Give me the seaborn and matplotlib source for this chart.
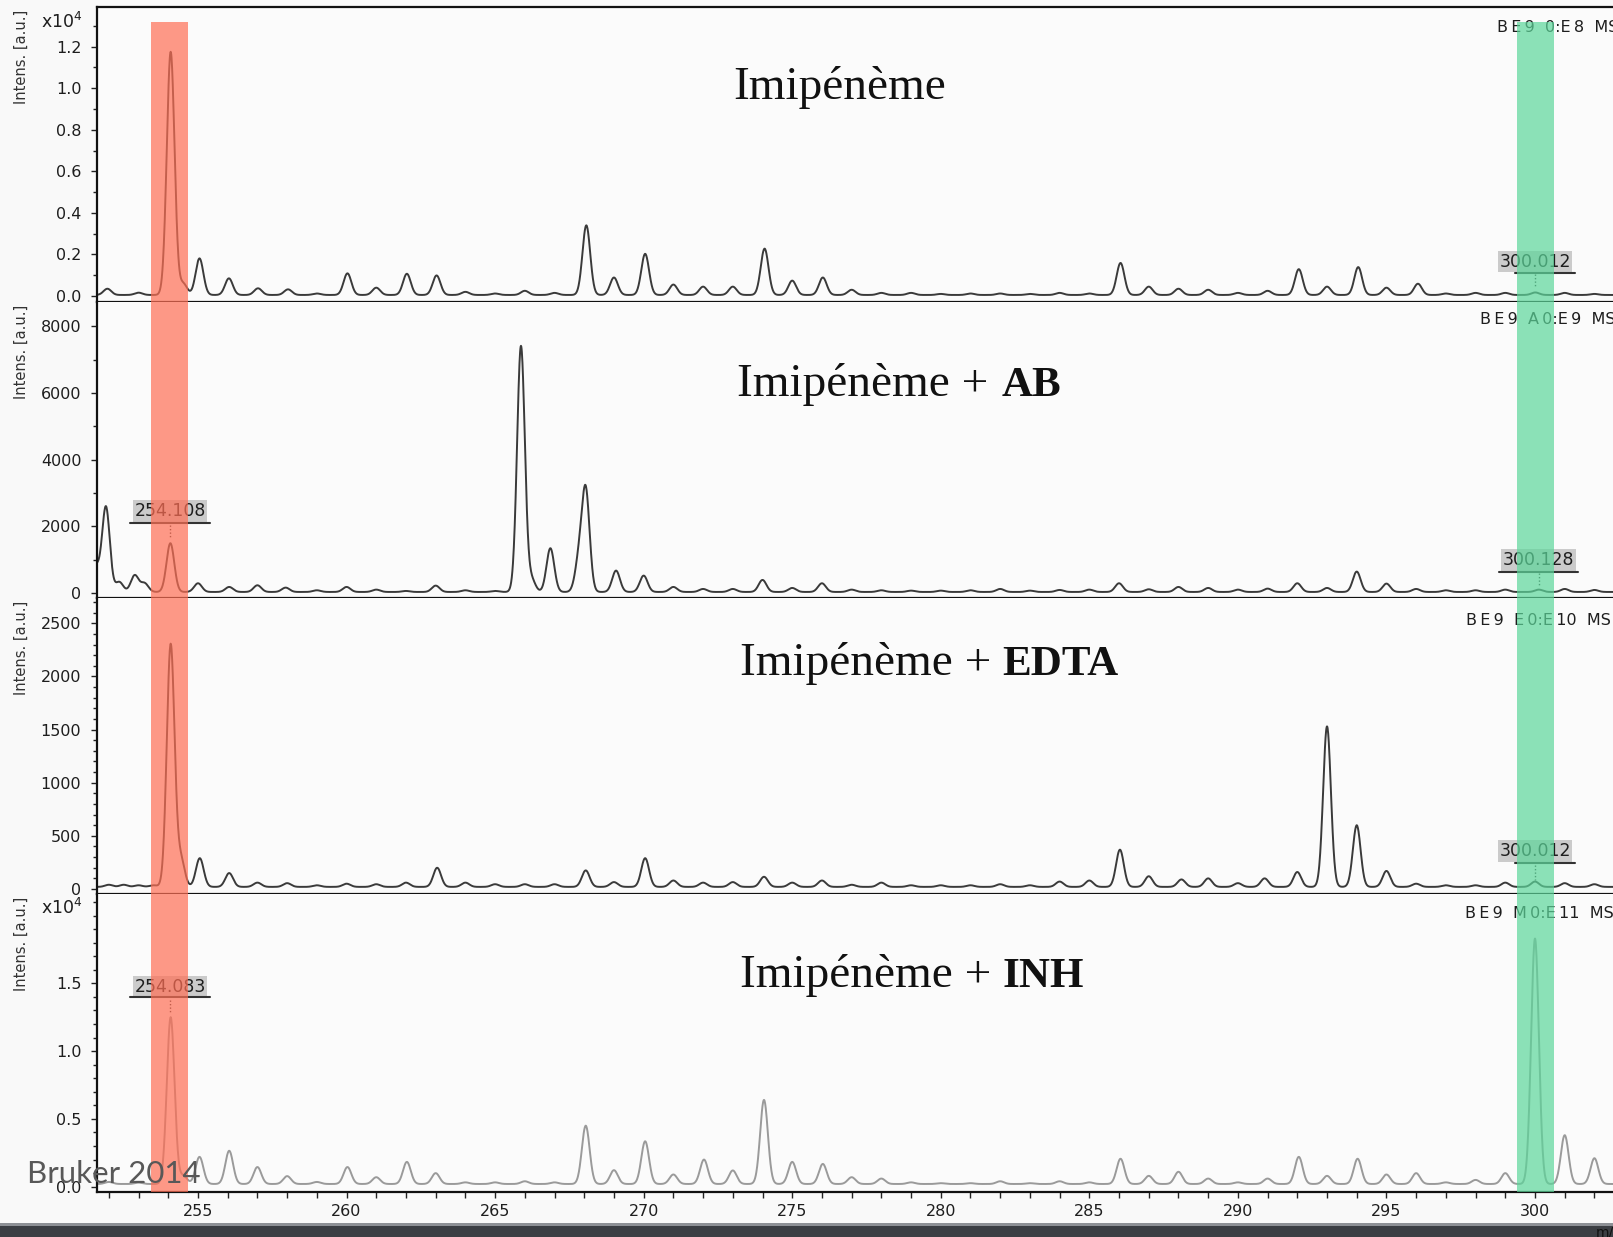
import numpy as np
import pandas as pd
import matplotlib
matplotlib.use("Agg")
import matplotlib.pyplot as plt
import seaborn as sns
from matplotlib.ticker import MultipleLocator, FixedLocator, FuncFormatter
from matplotlib.transforms import blended_transform_factory
from matplotlib.patches import Rectangle

# ---------------------------------------------------------------------------
# MALDI-TOF peak lists (m/z, intensity above baseline, a.u.)
# ---------------------------------------------------------------------------
imi_mz = [251.95, 253.0, 254.08, 254.5, 255.05, 256.04, 257.02, 258.03, 259.0,
          260.03, 261.0, 262.03, 263.03, 264.0, 265.0, 266.0, 267.0, 268.07,
          269.0, 270.05, 271.0, 272.0, 273.0, 274.07, 275.0, 276.03, 277.0,
          278.0, 279.0, 280.0, 281.0, 282.0, 283.0, 284.0, 285.0, 286.05,
          287.0, 288.0, 289.0, 290.0, 291.0, 292.05, 293.0, 294.05, 295.0,
          296.06, 297.0, 298.0, 299.0, 300.01, 301.0, 302.0]
imi_int = [300, 110, 11700, 550, 1760, 800, 320, 270, 70,
           1040, 350, 1020, 940, 150, 70, 200, 100, 3350,
           840, 1980, 500, 400, 400, 2230, 690, 840, 250,
           100, 100, 50, 70, 70, 50, 100, 70, 1540,
           400, 300, 250, 100, 200, 1240, 400, 1340, 350,
           540, 70, 100, 100, 120, 100, 50]
imi_base = 50

ab_mz = [251.55, 251.9, 252.35, 252.87, 253.2, 254.07, 255.0, 256.05, 257.0,
         257.95, 259.0, 260.0, 261.0, 262.0, 263.0, 264.0, 265.0, 265.87,
         266.22, 266.86, 267.82, 268.05, 269.07, 270.0, 271.0, 272.0, 273.0,
         274.0, 275.0, 276.0, 277.0, 278.0, 279.0, 280.0, 281.0, 282.0, 283.0,
         284.0, 285.0, 286.0, 287.0, 288.0, 289.0, 290.0, 291.0, 292.0, 293.0,
         294.0, 295.0, 296.0, 297.0, 298.0, 299.0, 300.13, 301.0, 302.0]
ab_int = [750, 2550, 300, 500, 260, 1460, 260, 150, 200,
          130, 50, 150, 70, 30, 190, 50, 30, 7360,
          380, 1310, 900, 3000, 640, 490, 150, 90, 90,
          360, 120, 260, 70, 50, 40, 40, 50, 90, 40,
          60, 70, 260, 80, 150, 120, 70, 100, 260, 120,
          610, 250, 90, 50, 50, 70, 70, 90, 60]
ab_base = 40

edta_mz = [252.0, 252.5, 253.0, 253.5, 254.08, 254.42, 255.06, 256.05, 257.0,
           258.0, 259.0, 260.0, 261.0, 262.0, 263.05, 264.0, 265.0, 266.0,
           267.0, 268.05, 269.0, 270.05, 271.0, 272.0, 273.0, 274.05, 275.0,
           276.0, 277.0, 278.0, 279.0, 280.0, 281.0, 282.0, 283.0, 284.0,
           285.0, 286.03, 287.0, 288.1, 289.0, 290.0, 290.9, 292.0, 293.0,
           294.0, 295.0, 296.0, 297.0, 298.0, 299.0, 300.0, 301.0, 302.0]
edta_int = [20, 20, 15, 15, 2280, 260, 270, 130, 40,
            35, 15, 30, 25, 40, 180, 40, 25, 25,
            25, 155, 45, 270, 60, 40, 45, 95, 40,
            60, 20, 40, 15, 15, 15, 25, 15, 50,
            60, 350, 100, 70, 80, 35, 80, 140, 1510,
            580, 150, 30, 15, 15, 40, 50, 35, 25]
edta_base = 20

inh_mz = [252.0, 253.0, 254.08, 254.5, 255.05, 256.05, 257.0, 258.0, 259.0,
          260.03, 261.0, 262.03, 263.0, 264.0, 265.0, 266.0, 267.0, 268.05,
          269.0, 270.05, 271.0, 272.03, 273.0, 274.05, 275.0, 276.03, 277.0,
          278.0, 279.0, 280.0, 281.0, 282.0, 283.0, 284.0, 285.0, 286.05,
          287.0, 288.0, 289.0, 290.0, 291.0, 292.05, 293.0, 294.03, 295.0,
          296.0, 297.0, 298.0, 299.0, 300.0, 301.0, 302.0]
inh_int = [150, 100, 12300, 600, 2000, 2450, 1250, 580, 150,
           1250, 500, 1630, 800, 120, 120, 200, 120, 4300,
           1020, 3150, 700, 1800, 1000, 6200, 1630, 1480, 500,
           400, 120, 60, 60, 200, 60, 200, 120, 1860,
           600, 900, 400, 120, 400, 2000, 600, 1860, 700,
           800, 120, 300, 800, 18100, 3600, 1900]
inh_base = 200

title_main = ["Imipénème", "Imipénème +", "Imipénème +", "Imipénème +"]
title_agent = ["", "AB", "EDTA", "INH"]
run_ids = ["B\u2009E\u20099  0:E\u20098  MS",
           "B\u2009E\u20099  A\u20090:E\u20099  MS",
           "B\u2009E\u20099  E\u20090:E\u200910  MS",
           "B\u2009E\u20099  M\u20090:E\u200911  MS"]

# ---------------------------------------------------------------------------
sns.set_style("white")
plt.rcParams["font.family"] = ["DejaVu Sans"]

W, H = 1613, 1237
fig = plt.figure(figsize=(W / 100, H / 100), dpi=100, facecolor="#f9f9f9")

def fx(px):
    return px / W

def fy(py):
    return 1 - py / H

left_px, right_px = 97, 1620
panels_px = [(7, 302), (302, 598), (598, 894), (894, 1192)]
ylims = [(-289, 13908), (-141, 8722), (-47, 2738), (-391, 21586)]
x_lo = 255 - (198 - left_px) / 29.71
x_hi = 300 + (right_px - 1535) / 29.71

mz_grid = np.arange(251.0, 303.5, 0.01)

def profile(mz, inten, base, width):
    y = np.full_like(mz_grid, float(base))
    for m, h in zip(mz, inten):
        y += h * np.exp(-0.5 * ((mz_grid - m) / width) ** 2)
    return pd.DataFrame({"mz": mz_grid, "intensity": y})

spectra = [profile(imi_mz, imi_int, imi_base, 0.13),
           profile(ab_mz, ab_int, ab_base, 0.13),
           profile(edta_mz, edta_int, edta_base, 0.13),
           profile(inh_mz, inh_int, inh_base, 0.13)]
line_colors = ["#3a3a3a", "#3a3a3a", "#3a3a3a", "#9a9a9a"]

axes = []
for i, ((top, bot), df) in enumerate(zip(panels_px, spectra)):
    ax = fig.add_axes([fx(left_px), fy(bot), fx(right_px - left_px), (bot - top) / H],
                      sharex=axes[0] if axes else None)
    ax.set_facecolor("#fbfbfb")
    sns.lineplot(data=df, x="mz", y="intensity", ax=ax, color=line_colors[i],
                 lw=1.4, estimator=None, errorbar=None, sort=False)
    ax.set_xlim(x_lo, x_hi)
    ax.set_ylim(*ylims[i])
    ax.spines["right"].set_visible(False)
    for s in ["left", "bottom", "top"]:
        ax.spines[s].set_color("#111111")
        ax.spines[s].set_linewidth(1.6)
    if i > 0:
        ax.spines["top"].set_visible(False)
    ax.set_xlabel("")
    ax.set_ylabel("Intens. [a.u.]", fontsize=10.5, color="#333333", loc="top")
    ax.yaxis.set_label_coords(-0.045, 0.99)
    ax.tick_params(axis="y", which="major", direction="out", length=4.3, width=1.0,
                   color="#222222", labelsize=11.5, labelcolor="#1e1e1e", pad=7, left=True)
    ax.tick_params(axis="y", which="minor", direction="out", length=3.0, width=1.0,
                   color="#222222", left=True)
    if i < 3:
        ax.tick_params(axis="x", which="both", bottom=False, labelbottom=False)
    axes.append(ax)

# y-axis scales of each panel
ax1, ax2, ax3, ax4 = axes
sci = FuncFormatter(lambda v, p: f"{v / 1e4:.1f}")
ax1.yaxis.set_major_locator(FixedLocator([0, 2000, 4000, 6000, 8000, 10000, 12000]))
ax1.yaxis.set_minor_locator(MultipleLocator(1000))
ax1.yaxis.set_major_formatter(sci)
ax2.yaxis.set_major_locator(FixedLocator([0, 2000, 4000, 6000, 8000]))
ax2.yaxis.set_minor_locator(MultipleLocator(1000))
ax3.yaxis.set_major_locator(FixedLocator([0, 500, 1000, 1500, 2000, 2500]))
ax3.yaxis.set_minor_locator(MultipleLocator(100))
ax4.yaxis.set_major_locator(FixedLocator([0, 5000, 10000, 15000]))
ax4.yaxis.set_minor_locator(MultipleLocator(1000))
ax4.yaxis.set_major_formatter(sci)

ax4.xaxis.set_major_locator(MultipleLocator(5))
ax4.xaxis.set_minor_locator(MultipleLocator(1))
ax4.tick_params(axis="x", which="both", direction="out", length=4.0, width=1.0,
                color="#222222", bottom=True, labelbottom=True)
ax4.tick_params(axis="x", which="major", labelsize=11.5, labelcolor="#1e1e1e", pad=5)

# intensity multiplier marks
for py in (22, 908):
    fig.text(fx(41), fy(py), r"x10$^{\mathsf{4}}$", fontsize=12.5, color="#1e1e1e",
             va="center", ha="left")

# sample titles: regular compound name, bold added agent
title_pos = [(733, 99), (737, 396), (740, 675), (740, 987)]
for main, agent, (px, py) in zip(title_main, title_agent, title_pos):
    fig.text(fx(px), fy(py), main, fontsize=34, family="Liberation Serif",
             color="#111111", ha="left", va="baseline")
    if agent:
        fig.text(fx(1002), fy(py), agent, fontsize=31, family="Liberation Serif",
                 weight="bold", color="#111111", ha="left", va="baseline")

# acquisition ids, clipped by the right border
id_pos = [(1497, 27), (1480, 320), (1466, 621), (1465, 913)]
for t, (px, py) in zip(run_ids, id_pos):
    fig.text(fx(px), fy(py), t, fontsize=11.5, color="#1e1e1e", ha="left", va="center")

# peak annotations
def peak_tag(ax, label, xc, yc, y_line, x0, x1, yd0, yd1):
    ax.text(xc, yc, label, ha="center", va="center", fontsize=12.5, color="#1e1e1e",
            bbox=dict(boxstyle="square,pad=0.1", fc="#c6c6c6", ec="none", alpha=0.9),
            zorder=4)
    ax.plot([x0, x1], [y_line, y_line], color="#333333", lw=1.5, zorder=4)
    ax.plot([xc, xc], [yd0, yd1], color="#333333", lw=1.0, ls=(0, (1, 1.5)), zorder=4)

peak_tag(ax1, "300.012", 300.0, 1660, 1107, 299.33, 301.35, 1059, 433)
peak_tag(ax2, "254.108", 254.06, 2464, 2108, 252.71, 255.40, 2048, 1690)
peak_tag(ax2, "300.128", 300.12, 997, 638, 298.80, 301.45, 608, 249)
peak_tag(ax3, "300.012", 300.0, 357, 245, 299.33, 301.35, 226, 85)
peak_tag(ax4, "254.083", 254.06, 14727, 13990, 252.71, 255.40, 13768, 12884)

# highlighted m/z windows spanning all four spectra
band_tf = blended_transform_factory(ax4.transData, fig.transFigure)
for lo, hi, col in [(253.42, 254.66, "#ff6f55"), (299.39, 300.63, "#5cd69a")]:
    fig.add_artist(Rectangle((lo, fy(1192)), hi - lo, fy(22) - fy(1192), transform=band_tf,
                             facecolor=col, edgecolor="none", alpha=0.7, zorder=5))

# watermark
fig.text(fx(27), fy(1183), "Bruker 2014", fontsize=22.5, family="Lato", weight="normal",
         color="#585858", ha="left", va="baseline", zorder=8)

# window bar along the bottom edge
fig.add_artist(Rectangle((0, 0), 1, fy(1226), transform=fig.transFigure,
                         facecolor="#3b3e43", edgecolor="none", zorder=9))
fig.add_artist(Rectangle((0, fy(1226)), 1, 3 / H, transform=fig.transFigure,
                         facecolor="#8d9095", edgecolor="none", zorder=9))
fig.text(fx(1596), fy(1236), "m/z", fontsize=10, color="#111111", ha="left",
         va="baseline", zorder=10)

fig.savefig("out.png", dpi=100, facecolor=fig.get_facecolor())
